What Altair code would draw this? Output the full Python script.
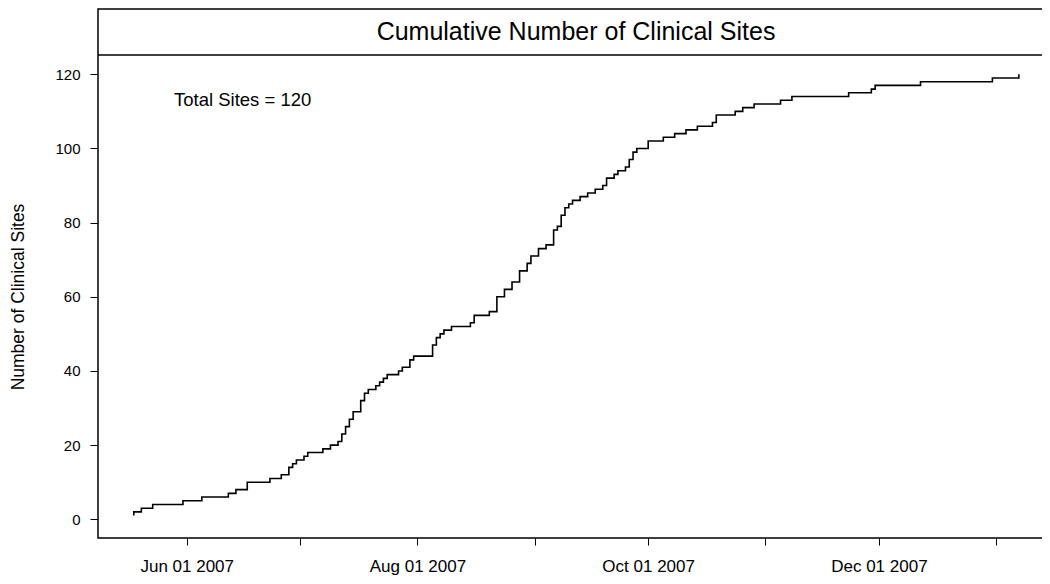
import altair as alt
import pandas as pd

# Dates on which clinical sites were activated and the cumulative total after each date
site_dates = [
    "2007-05-18", "2007-05-18", "2007-05-20", "2007-05-23", "2007-05-31", "2007-06-05",
    "2007-06-12", "2007-06-14", "2007-06-17", "2007-06-23", "2007-06-26", "2007-06-28",
    "2007-06-29", "2007-06-30", "2007-07-02", "2007-07-03", "2007-07-07", "2007-07-09",
    "2007-07-11", "2007-07-12", "2007-07-13", "2007-07-14", "2007-07-15", "2007-07-17",
    "2007-07-18", "2007-07-19", "2007-07-21", "2007-07-22", "2007-07-23", "2007-07-24",
    "2007-07-27", "2007-07-28", "2007-07-30", "2007-07-31", "2007-08-05", "2007-08-06",
    "2007-08-07", "2007-08-08", "2007-08-10", "2007-08-15", "2007-08-16", "2007-08-20",
    "2007-08-22", "2007-08-24", "2007-08-26", "2007-08-28", "2007-08-30", "2007-08-31",
    "2007-09-02", "2007-09-04", "2007-09-06", "2007-09-07", "2007-09-08", "2007-09-09",
    "2007-09-10", "2007-09-11", "2007-09-13", "2007-09-15", "2007-09-17", "2007-09-19",
    "2007-09-20", "2007-09-22", "2007-09-23", "2007-09-25", "2007-09-26", "2007-09-27",
    "2007-09-28", "2007-10-01", "2007-10-05", "2007-10-08", "2007-10-11", "2007-10-14",
    "2007-10-18", "2007-10-19", "2007-10-24", "2007-10-26", "2007-10-29", "2007-11-05",
    "2007-11-08", "2007-11-23", "2007-11-29", "2007-11-30", "2007-12-12", "2007-12-31",
    "2008-01-07",
]
cumulative_sites = [
    1, 2, 3, 4, 5, 6,
    7, 8, 10, 11, 12, 14,
    15, 16, 17, 18, 19, 20,
    21, 23, 25, 27, 29, 32,
    34, 35, 36, 37, 38, 39,
    40, 41, 43, 44, 47, 49,
    50, 51, 52, 53, 55, 56,
    60, 62, 64, 67, 69, 71,
    73, 74, 78, 79, 82, 84,
    85, 86, 87, 88, 89, 90,
    92, 93, 94, 95, 97, 99,
    100, 102, 103, 104, 105, 106,
    107, 109, 110, 111, 112, 113,
    114, 115, 116, 117, 118, 119,
    120,
]
y_tick_values = [0, 20, 40, 60, 80, 100, 120]
x_tick_months = [(2007, 6), (2007, 7), (2007, 8), (2007, 9), (2007, 10), (2007, 11), (2007, 12), (2008, 1)]
panel_title = "Cumulative Number of Clinical Sites"
y_title = "Number of Clinical Sites"

FONT = "Liberation Sans"
W, H = 956, 529

df = pd.DataFrame({"date": site_dates, "sites": cumulative_sites})

x_scale = alt.Scale(
    type="utc",
    domain=[
        alt.DateTime(year=2007, month=5, date=8, hours=13, utc=True),
        alt.DateTime(year=2008, month=1, date=16, hours=7, utc=True),
    ],
    nice=False,
)
x_axis = alt.Axis(
    values=[alt.DateTime(year=y, month=m, date=1, utc=True) for y, m in x_tick_months],
    labelExpr="utcmonth(datum.value) % 2 == 1 ? utcFormat(datum.value, '%b %d %Y') : ''",
    title=None,
    tickSize=7,
    labelPadding=13,
    labelFontSize=17,
    labelFlush=False,
    labelOverlap=False,
    labelBound=False,
)
y_axis = alt.Axis(
    values=y_tick_values,
    title=y_title,
    tickSize=8,
    labelPadding=10,
    labelFontSize=15,
    titleFontSize=17.5,
    titleFontWeight="normal",
    titleX=-80,
    titleY=287.5,
    titleAngle=270,
    titleAlign="center",
    titleBaseline="middle",
)

line = alt.Chart(df).mark_line(
    interpolate="step-after", color="black", strokeWidth=1.6
).encode(
    x=alt.X("date:T", scale=x_scale, axis=x_axis),
    y=alt.Y("sites:Q", scale=alt.Scale(domain=[-5.04, 137.6], nice=False, zero=False), axis=y_axis),
)

strip_line = alt.Chart(pd.DataFrame({"k": [0]})).mark_rule(
    color="black", strokeWidth=1.5
).encode(x=alt.value(0), x2=alt.value(W), y=alt.value(46))

title_df = pd.DataFrame({"label": [panel_title]})
title_text = alt.Chart(title_df).mark_text(
    font=FONT, fontSize=25, color="black", align="center", baseline="middle"
).encode(x=alt.value(W / 2), y=alt.value(23), text="label:N")

note_df = pd.DataFrame({"label": [f"Total Sites = {cumulative_sites[-1]}"]})
note_text = alt.Chart(note_df).mark_text(
    font=FONT, fontSize=18.5, color="black", align="left", baseline="middle"
).encode(x=alt.value(76), y=alt.value(91), text="label:N")

chart = alt.layer(line, strip_line, title_text, note_text).properties(
    width=W,
    height=H,
    autosize=alt.AutoSizeParams(type="none"),
    padding={"left": 90, "top": 1, "right": -12, "bottom": 38},
    background="white",
).configure_view(
    stroke="black", strokeWidth=1.5
).configure_axis(
    domain=False,
    grid=False,
    tickColor="black",
    tickWidth=1,
    labelColor="black",
    titleColor="black",
    labelFont=FONT,
    titleFont=FONT,
)

chart.save("out.html", embed_options={"renderer": "svg", "actions": False})
